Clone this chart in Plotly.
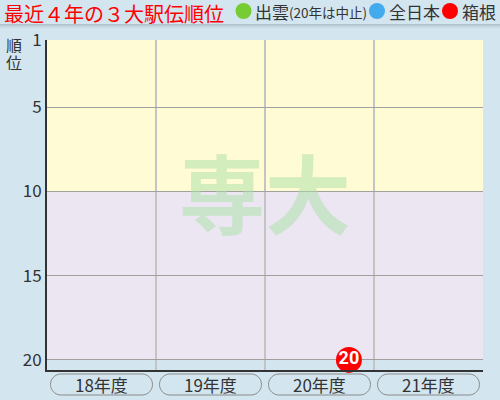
import plotly.graph_objects as go

# data
years = ["18年度", "19年度", "20年度", "21年度"]
izumo = [None, None, None, None]      # 20年度は中止
zennihon = [None, None, None, None]
hakone = [None, None, 20, None]
rank_ticks = [1, 5, 10, 15, 20]

FONT = "Noto Sans CJK JP"
BG = "#d3e6ef"

# plot area in pixels (500x400 page)
L, R, T, B = 47, 483, 40, 370


def fx(px):
    return (px - L) / (R - L)


def fy(py):
    return (B - py) / (B - T)


def pill(cx, cy, w, h):
    # rounded box path in paper coords, from pixel sizes
    r = h / 2
    k = 0.5523 * r
    x0, x1 = cx - w / 2, cx + w / 2
    top, bot = cy - r, cy + r
    pts = [
        ("M", [(x0 + r, top)]),
        ("L", [(x1 - r, top)]),
        ("C", [(x1 - r + k, top), (x1, cy - k), (x1, cy)]),
        ("C", [(x1, cy + k), (x1 - r + k, bot), (x1 - r, bot)]),
        ("L", [(x0 + r, bot)]),
        ("C", [(x0 + r - k, bot), (x0, cy + k), (x0, cy)]),
        ("C", [(x0, cy - k), (x0 + r - k, top), (x0 + r, top)]),
    ]
    s = ""
    for cmd, ps in pts:
        s += cmd + " ".join("{:.5f},{:.5f}".format(fx(a), fy(b)) for a, b in ps) + " "
    return s + "Z"


offsets = {"出雲": -0.27, "全日本": 0.0, "箱根": 0.27}
colors = {"出雲": "#77cc33", "全日本": "#44aaee", "箱根": "#ff0000"}

fig = go.Figure()
for name, vals in [("出雲", izumo), ("全日本", zennihon), ("箱根", hakone)]:
    xs = [i + offsets[name] for i in range(len(years))]
    fig.add_trace(go.Scatter(
        x=xs, y=vals, name=name, mode="markers+text",
        text=[str(v) if v is not None else "" for v in vals],
        textposition="middle center",
        textfont=dict(family="Roboto", size=18, color="white", weight="bold"),
        marker=dict(size=26, color=colors[name]),
        cliponaxis=False, showlegend=False, hoverinfo="skip",
    ))

shapes = [
    dict(type="rect", xref="paper", yref="y", x0=0, x1=1, y0=1, y1=10,
         fillcolor="#fffbd4", line_width=0, layer="below"),
    dict(type="rect", xref="paper", yref="y", x0=0, x1=1, y0=10, y1=20,
         fillcolor="#ebe6f2", line_width=0, layer="below"),
]
# header shadow
for i, a in enumerate([0.22, 0.16, 0.1, 0.05, 0.02]):
    shapes.append(dict(type="line", xref="paper", yref="paper",
                       x0=fx(0), x1=fx(500), y0=fy(24.5 + i), y1=fy(24.5 + i),
                       line=dict(color="rgba(60,80,90,%.2f)" % a, width=1)))
# legend dots
for cx, c in [(243.5, colors["出雲"]), (377, colors["全日本"]), (450, colors["箱根"])]:
    shapes.append(dict(type="circle", xref="paper", yref="paper",
                       x0=fx(cx - 8), x1=fx(cx + 8), y0=fy(3), y1=fy(19),
                       fillcolor=c, line_width=0))
# year boxes
for i in range(len(years)):
    cx = L + (R - L) / len(years) * (i + 0.5)
    shapes.append(dict(type="path", xref="paper", yref="paper",
                       path=pill(cx, 384.5, 102, 21),
                       line=dict(color="#8a8a8a", width=1)))

ann = [
    dict(text="最近４年の３大駅伝順位", x=fx(2), y=fy(13), xanchor="left",
         font=dict(size=20, color="#ff0000")),
    dict(text="出雲", x=fx(253), y=fy(11.5), xanchor="left",
         font=dict(size=17, color="#333333")),
    dict(text="(20年は中止)", x=fx(287), y=fy(12), xanchor="left",
         font=dict(size=13.5, color="#333333")),
    dict(text="全日本", x=fx(387), y=fy(11.5), xanchor="left",
         font=dict(size=17, color="#333333")),
    dict(text="箱根", x=fx(460), y=fy(11.5), xanchor="left",
         font=dict(size=17, color="#333333")),
    dict(text="順", x=fx(13.5), y=fy(44.5), xanchor="center", height=16,
         font=dict(size=16, color="#333333")),
    dict(text="位", x=fx(13.5), y=fy(61.5), xanchor="center", height=16,
         font=dict(size=16, color="#333333")),
    dict(text="専大", x=0.5, y=fy(191), xanchor="center",
         font=dict(size=86, color="rgba(170,224,164,0.5)", weight="bold")),
]
for a in ann:
    a.update(xref="paper", yref="paper", showarrow=False, yanchor="middle")
for i, yr in enumerate(years):
    ann.append(dict(text=yr, x=i, xref="x", y=fy(384.5), yref="paper",
                    showarrow=False, xanchor="center", yanchor="middle",
                    font=dict(size=17, color="#333333")))

fig.update_layout(
    width=500, height=400,
    margin=dict(l=L, r=500 - R, t=T, b=400 - B),
    paper_bgcolor=BG, plot_bgcolor=BG,
    font=dict(family=FONT, color="#333333"),
    shapes=shapes, annotations=ann,
    showlegend=False,
)
fig.update_xaxes(range=[-0.5, 3.5], showticklabels=False, showgrid=False,
                 zeroline=False, showline=True, linecolor="#333333", linewidth=2,
                 minor=dict(tick0=0.5, dtick=1, showgrid=True,
                            gridcolor="#c4c4c4", gridwidth=2))
fig.update_yaxes(range=[20.6, 1], tickvals=rank_ticks, showgrid=True,
                 gridcolor="#a0a0a0", gridwidth=1, zeroline=False,
                 showline=True, linecolor="#333333", linewidth=2,
                 tickfont=dict(size=17, color="#333333"), ticks="")

fig.write_html("out.html", config={"displayModeBar": False},
               post_script="document.body.style.margin='0';")
